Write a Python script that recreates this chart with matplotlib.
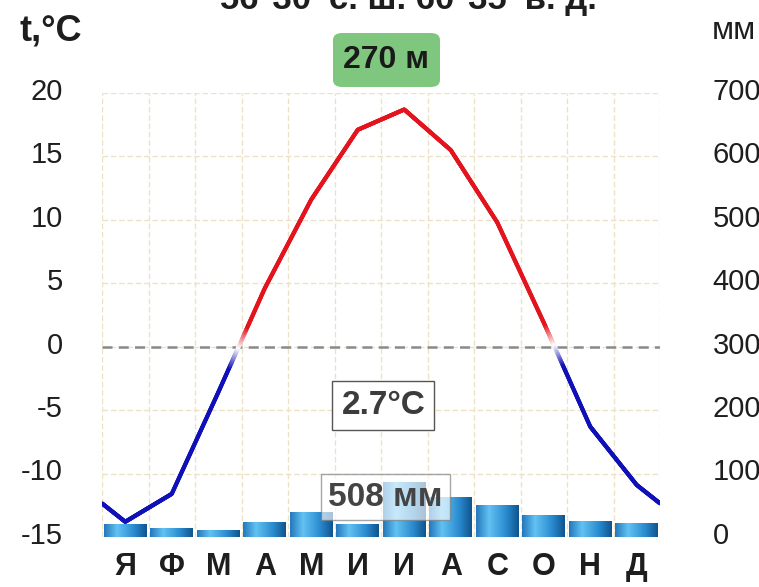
import numpy as np
import matplotlib
matplotlib.use("Agg")
import matplotlib.pyplot as plt
import matplotlib.transforms as mtransforms
from matplotlib.collections import LineCollection
from matplotlib.colors import LinearSegmentedColormap, to_rgb
from matplotlib.patches import FancyBboxPatch

plt.rcParams["font.family"] = ["Liberation Sans", "DejaVu Sans"]

months = ["Я", "Ф", "М", "А", "М", "И", "И", "А", "С", "О", "Н", "Д"]
temp = [-13.8, -11.6, -3.6, 4.6, 11.6, 17.1, 18.7, 15.5, 9.8, 1.9, -6.3, -10.9]
precip = [20, 14, 11, 24, 40, 20, 87, 63, 50, 35, 25, 22]
temp_ticks = [-15, -10, -5, 0, 5, 10, 15, 20]
precip_ticks = [0, 100, 200, 300, 400, 500, 600, 700]
title = "56°30' с. ш. 60°35' в. д."
height_label = "270 м"
mean_temp_label = "2.7°C"
total_precip_label = "508 мм"

RED = "#e3141e"
BLUE = "#1010b8"
GRID = "#eee2c6"
TEXT = "#1e1e1e"

fig = plt.figure(figsize=(7.59, 5.87), dpi=100, facecolor="white")
ax = fig.add_axes([102 / 759, 50 / 587, 558 / 759, 444 / 587])
ax2 = ax.twinx()
ax.set_zorder(ax2.get_zorder() + 1)
ax.patch.set_visible(False)

ax.set_xlim(0, 12)
ax.set_ylim(-15, 20)

# grid
for x in range(13):
    ax2.axvline(x, color=GRID, lw=1, ls=(0, (4, 2)), zorder=0)
for t in temp_ticks:
    ax2.axhline((t + 15) * 20, color=GRID, lw=1, ls=(0, (4, 2)), zorder=0)

# precipitation bars with horizontal gradient
xs = np.arange(12) + 0.5
bars = ax2.bar(xs, precip, width=0.92, color="none", edgecolor="none", zorder=2)
bar_cmap = LinearSegmentedColormap.from_list(
    "bar", [(0, "#2478bc"), (0.3, "#62c2f2"), (0.7, "#2a8cd0"), (1, "#10558f")]
)
grad = np.linspace(0, 1, 64).reshape(1, -1)
for b in bars:
    x0, w, h = b.get_x(), b.get_width(), b.get_height()
    im = ax2.imshow(grad, cmap=bar_cmap, extent=[x0, x0 + w, 0, h],
                    aspect="auto", zorder=2)
    im.set_clip_path(b)
ax2.set_xlim(0, 12)
ax2.set_ylim(0, 700)

# zero line
ax.axhline(0, color="#8a8a8a", lw=1.8, ls=(0, (4, 2.5)), zorder=3)

# temperature line, red above zero, blue below, fading to white near zero
edge = (temp[0] + temp[-1]) / 2
xe = np.concatenate([[0], xs, [12]])
ye = np.concatenate([[edge], temp, [edge]])
xf = np.linspace(0, 12, 1201)
yf = np.interp(xf, xe, ye)
pts = np.column_stack([xf, yf]).reshape(-1, 1, 2)
segs = np.concatenate([pts[:-1], pts[1:]], axis=1)
ym = (yf[:-1] + yf[1:]) / 2
fade = np.clip(np.abs(ym) / 1.6, 0, 1)
white = np.ones(3)
cols = [tuple(white * (1 - a) + np.array(to_rgb(RED if v > 0 else BLUE)) * a)
        for v, a in zip(ym, fade)]
ax.add_collection(LineCollection(segs, colors=cols, linewidths=3,
                                 capstyle="round", zorder=4))

# axes styling
for a in (ax, ax2):
    for s in a.spines.values():
        s.set_visible(False)
ax.set_xticks(xs)
ax.set_xticklabels(months, fontsize=22, fontweight="bold", color=TEXT)
ax.set_yticks(temp_ticks)
ax.set_yticklabels([str(t) for t in temp_ticks], fontsize=21, color=TEXT)
ax2.set_yticks(precip_ticks)
ax2.set_yticklabels([str(p) for p in precip_ticks], fontsize=21, color=TEXT)
ax.tick_params(axis="x", length=0, pad=11)
ax.tick_params(axis="y", length=0, pad=28)
ax2.tick_params(axis="y", length=0, pad=38)
up = mtransforms.ScaledTranslation(0, 3 / 72, fig.dpi_scale_trans)
for lab in ax.get_yticklabels() + ax2.get_yticklabels():
    lab.set_transform(lab.get_transform() + up)

# texts
fig.text(408 / 759, 1 - 9 / 587, title, fontsize=25, fontweight="bold",
         color=TEXT, ha="center", va="baseline")
fig.text(19 / 759, 1 - 31 / 587, "t,°C", fontsize=26, fontweight="bold",
         color=TEXT, ha="left", va="center")
fig.text(712 / 759, 1 - 31 / 587, "мм", fontsize=23, color=TEXT,
         ha="left", va="center")

box = FancyBboxPatch((333 / 759, 1 - 87 / 587), 107 / 759, 54 / 587,
                     boxstyle="round,pad=0,rounding_size=0.012",
                     transform=fig.transFigure, facecolor="#7fc77e",
                     edgecolor="none")
fig.patches.append(box)
fig.text(386 / 759, 1 - 60 / 587, height_label, fontsize=23, fontweight="bold",
         color="#1a1a1a", ha="center", va="center")

ax.text(6.05, -4.6, mean_temp_label, fontsize=24, fontweight="bold",
        color="#3c3c3c", ha="center", va="center", zorder=6,
        bbox=dict(boxstyle="square,pad=0.27", facecolor="white",
                  edgecolor="#555555", lw=1))
ax.text(6.1, -11.85, total_precip_label, fontsize=24, fontweight="bold",
        color="#444444", ha="center", va="center", zorder=6,
        bbox=dict(boxstyle="square,pad=0.22", facecolor="white", alpha=0.65,
                  edgecolor="#777777", lw=1))

fig.savefig("out.png", dpi=100, facecolor="white")
